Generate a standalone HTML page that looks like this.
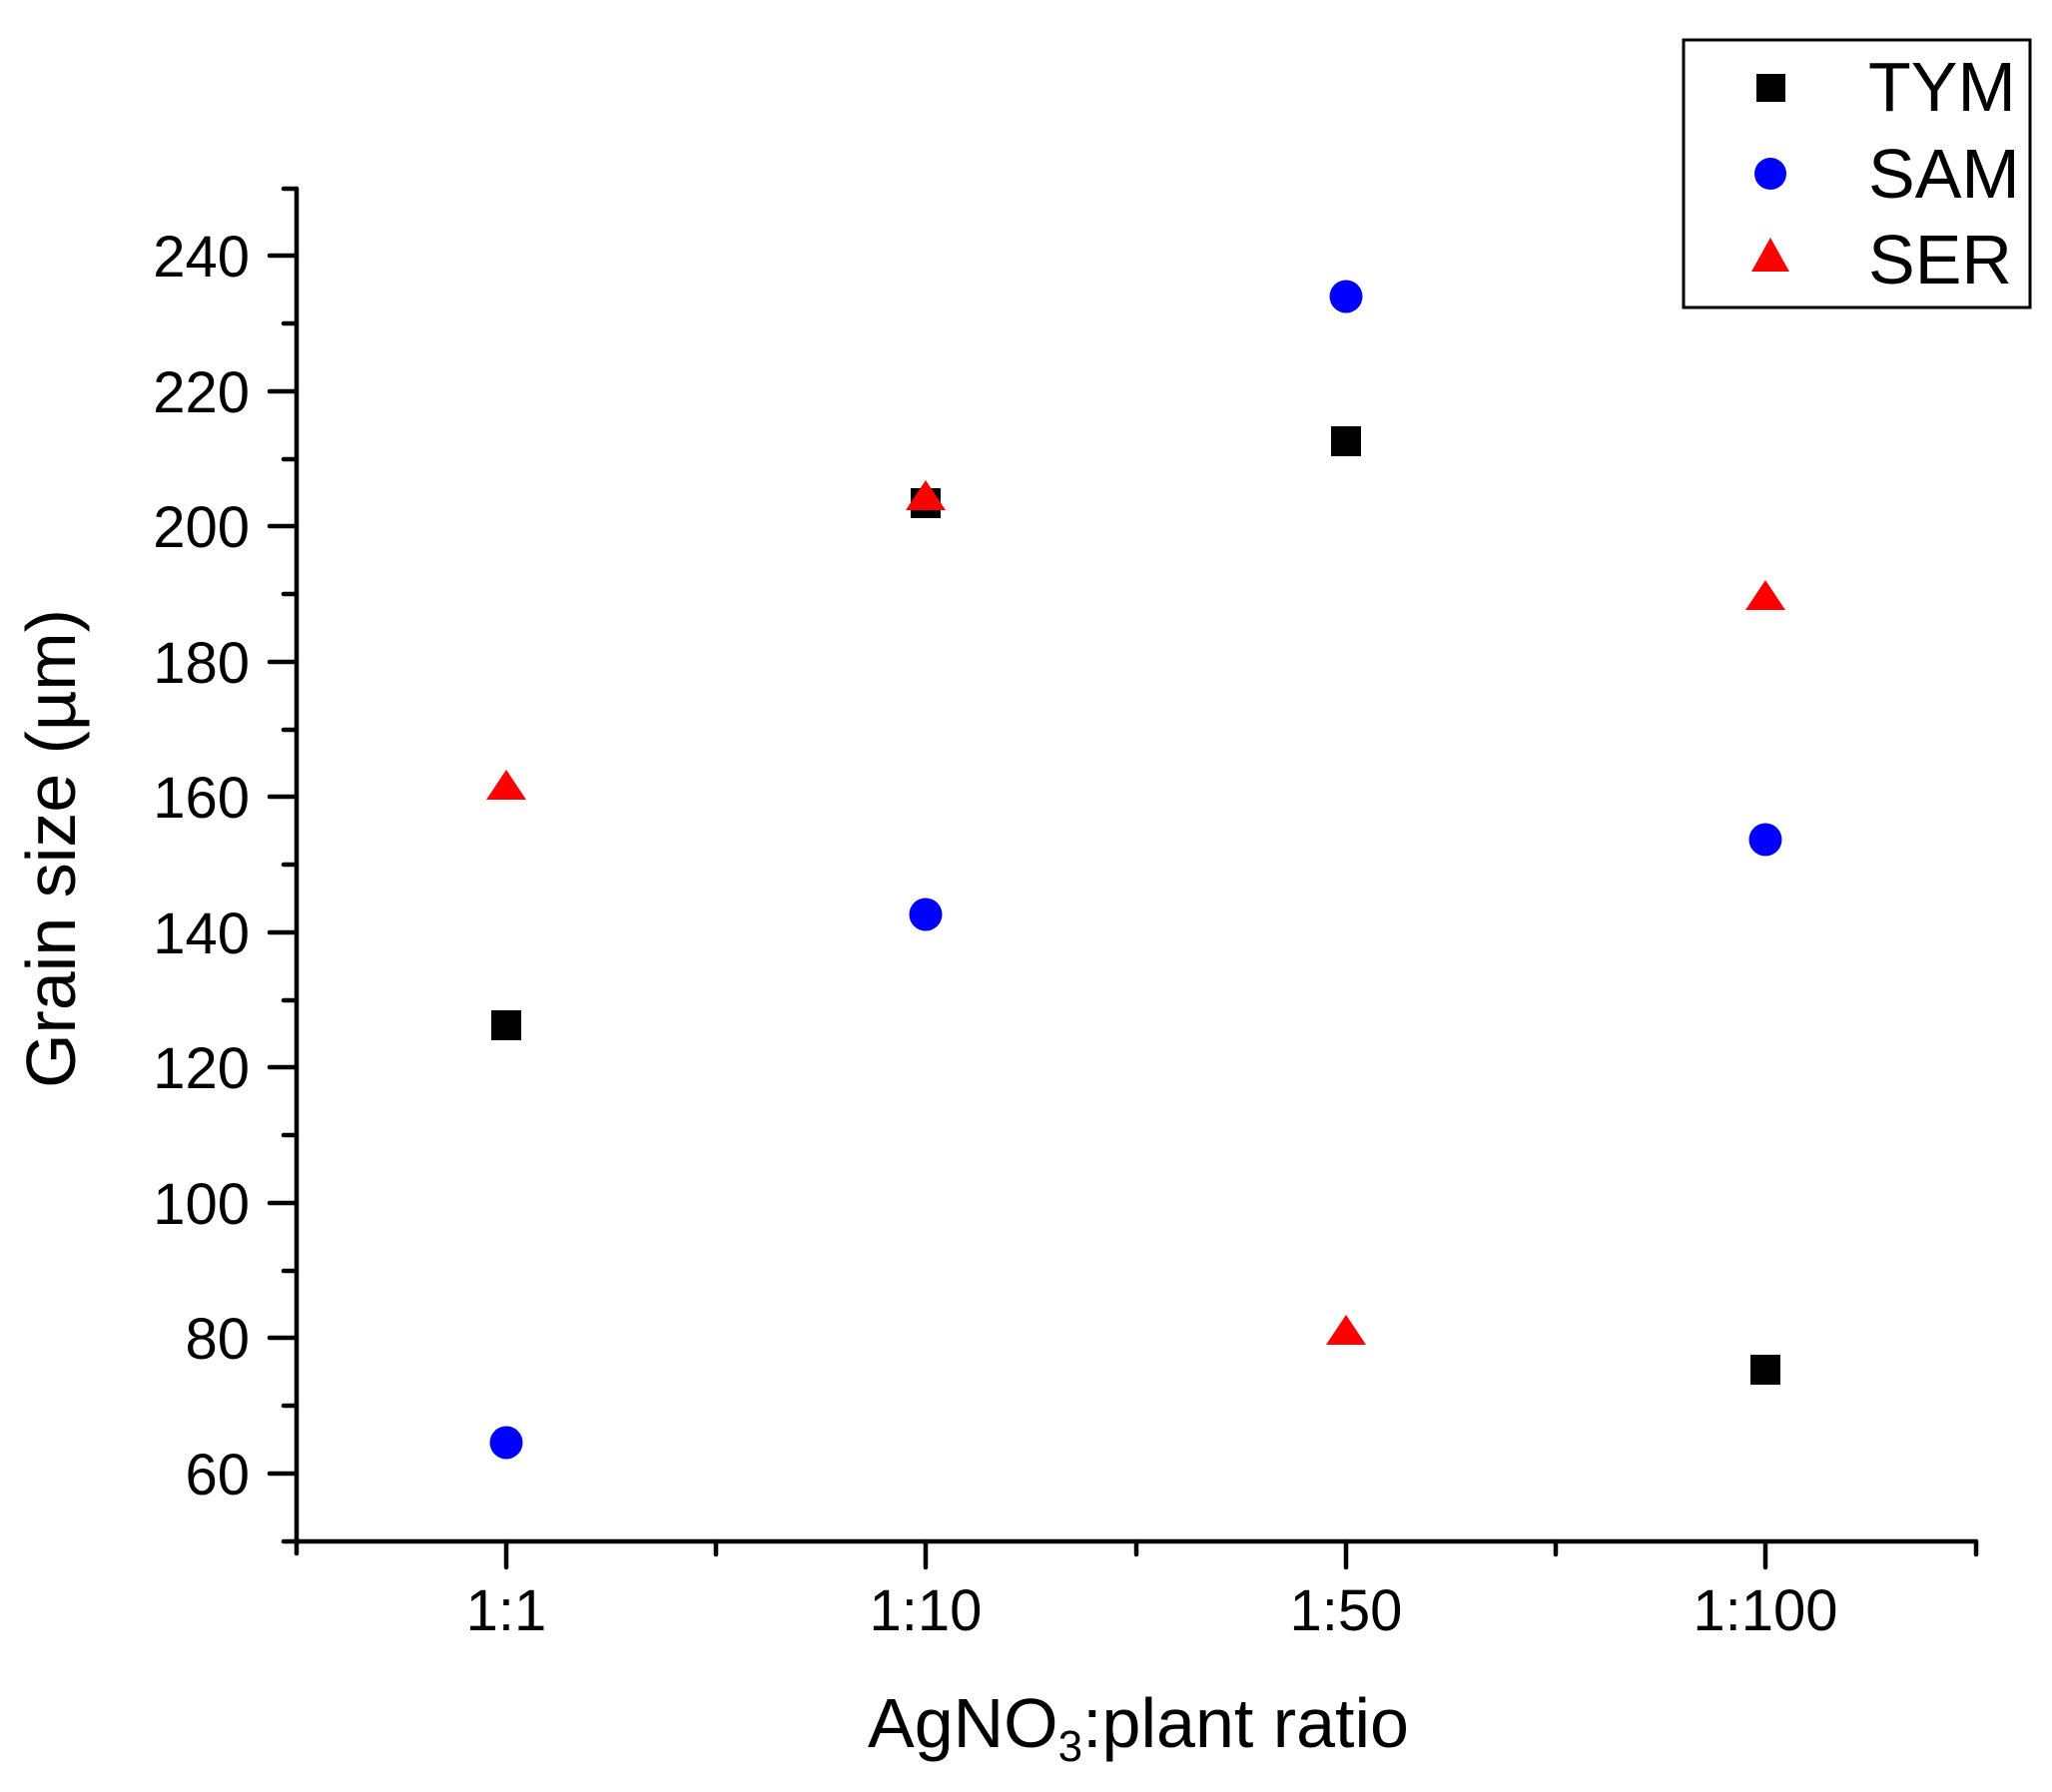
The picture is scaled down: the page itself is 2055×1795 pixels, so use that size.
<!DOCTYPE html>
<html><head><style>html,body{margin:0;padding:0;background:#fff}</style></head>
<body>
<svg width="2055" height="1790" xmlns="http://www.w3.org/2000/svg" font-family="Liberation Sans, Arial, sans-serif">
<rect width="2055" height="1790" fill="#fff"/>
<g stroke="#000" stroke-width="4.5" stroke-linecap="round" fill="none">
<line x1="297" y1="189" x2="297" y2="1556"/>
<line x1="284" y1="1544" x2="1979" y2="1544"/>
<line x1="270" y1="256" x2="297" y2="256"/>
<line x1="270" y1="392" x2="297" y2="392"/>
<line x1="270" y1="527" x2="297" y2="527"/>
<line x1="270" y1="663" x2="297" y2="663"/>
<line x1="270" y1="798" x2="297" y2="798"/>
<line x1="270" y1="934" x2="297" y2="934"/>
<line x1="270" y1="1069" x2="297" y2="1069"/>
<line x1="270" y1="1205" x2="297" y2="1205"/>
<line x1="270" y1="1340" x2="297" y2="1340"/>
<line x1="270" y1="1476" x2="297" y2="1476"/>
<line x1="284" y1="189" x2="297" y2="189"/>
<line x1="284" y1="324" x2="297" y2="324"/>
<line x1="284" y1="460" x2="297" y2="460"/>
<line x1="284" y1="595" x2="297" y2="595"/>
<line x1="284" y1="731" x2="297" y2="731"/>
<line x1="284" y1="866" x2="297" y2="866"/>
<line x1="284" y1="1002" x2="297" y2="1002"/>
<line x1="284" y1="1137" x2="297" y2="1137"/>
<line x1="284" y1="1273" x2="297" y2="1273"/>
<line x1="284" y1="1408" x2="297" y2="1408"/>
<line x1="507" y1="1544" x2="507" y2="1570"/>
<line x1="927" y1="1544" x2="927" y2="1570"/>
<line x1="1348" y1="1544" x2="1348" y2="1570"/>
<line x1="1768" y1="1544" x2="1768" y2="1570"/>
<line x1="717" y1="1544" x2="717" y2="1557"/>
<line x1="1138" y1="1544" x2="1138" y2="1557"/>
<line x1="1558" y1="1544" x2="1558" y2="1557"/>
<line x1="1979" y1="1544" x2="1979" y2="1557"/>
</g>
<g font-size="58" text-anchor="end" fill="#000">
<text x="250" y="277">240</text>
<text x="250" y="413">220</text>
<text x="250" y="548">200</text>
<text x="250" y="684">180</text>
<text x="250" y="819">160</text>
<text x="250" y="955">140</text>
<text x="250" y="1090">120</text>
<text x="250" y="1226">100</text>
<text x="250" y="1361">80</text>
<text x="250" y="1497">60</text>
</g>
<g font-size="58" text-anchor="middle" fill="#000">
<text x="507" y="1633">1:1</text>
<text x="927" y="1633">1:10</text>
<text x="1348" y="1633">1:50</text>
<text x="1768" y="1633">1:100</text>
</g>
<text x="1140" y="1750" font-size="70" text-anchor="middle">AgNO<tspan font-size="44" dy="14">3</tspan><tspan dy="-14">:plant ratio</tspan></text>
<text transform="translate(75,850) rotate(-90)" font-size="70" text-anchor="middle">Grain size (µm)</text>
<g fill="#000">
<rect x="492" y="1012" width="30" height="30"/>
<rect x="912" y="489" width="30" height="30"/>
<rect x="1333" y="427" width="30" height="30"/>
<rect x="1753" y="1357" width="30" height="30"/>
</g>
<g fill="#0000ff">
<circle cx="507" cy="1445" r="16.5"/>
<circle cx="927" cy="916" r="16.5"/>
<circle cx="1348" cy="297" r="16.5"/>
<circle cx="1768" cy="841" r="16.5"/>
</g>
<g fill="#ff0000">
<polygon points="507,771 487,801 527,801"/>
<polygon points="927,481 907,511 947,511"/>
<polygon points="1348,1317 1328,1347 1368,1347"/>
<polygon points="1768,581 1748,611 1788,611"/>
</g>
<rect x="1686" y="40" width="347" height="268" fill="none" stroke="#000" stroke-width="3"/>
<rect x="1759" y="74" width="29" height="28" fill="#000"/>
<circle cx="1773" cy="174" r="16" fill="#0000ff"/>
<polygon points="1773,238 1754,272 1792,272" fill="#ff0000"/>
<g font-size="70" fill="#000">
<text x="1871" y="111">TYM</text>
<text x="1871" y="198">SAM</text>
<text x="1871" y="284">SER</text>
</g>
</svg>
</body></html>
